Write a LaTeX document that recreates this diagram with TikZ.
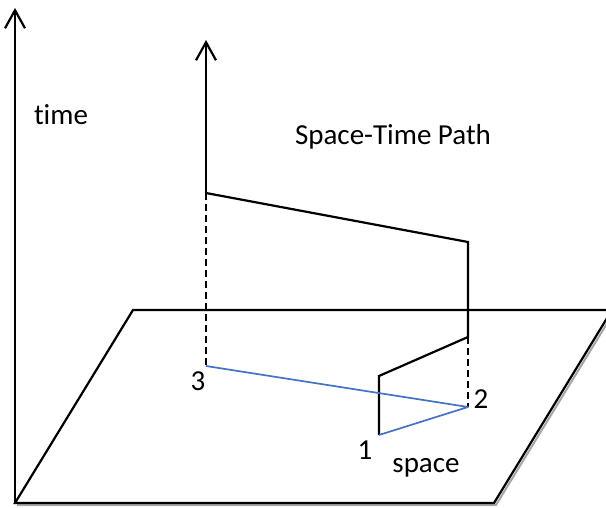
\documentclass[tikz,border=0pt]{standalone}
\usepackage{fontspec}
\setmainfont{Carlito}[Ligatures=NoCommon]
\usetikzlibrary{arrows.meta}
\begin{document}
\begin{tikzpicture}[x=1pt,y=-1pt,
  ln/.style={black,line width=2.2pt},
  gline/.style={draw=black,line width=2.2pt,line join=miter},
  shadowline/.style={draw=black!35,line width=2pt},
  dsh/.style={black,line width=1.8pt,dash pattern=on 7pt off 4pt},
  blueln/.style={draw={rgb,255:red,68;green,114;blue,196},line width=1.7pt},
  arr/.style={-{Straight Barb[length=18pt,width=20pt,line width=2.2pt]}},
  lbl/.style={font=\fontsize{29}{34}\selectfont,inner sep=0pt}]
\useasboundingbox (0,0) rectangle (606,508);
% coordinates
\coordinate (A) at (15,503);
\coordinate (B) at (133,310);
\coordinate (C) at (612,310);
\coordinate (D) at (494,503);
\coordinate (tt) at (15,8);
\coordinate (p0) at (206,40);
\coordinate (p1) at (206,193);
\coordinate (p2) at (468,242);
\coordinate (p3) at (468,337);
\coordinate (p4) at (379,376);
\coordinate (p5) at (379,435);
\coordinate (g3) at (206,366);
\coordinate (g2) at (468,407);
% plane with shadow
\begin{scope}
\clip (0,0) rectangle (606,508);
\draw[shadowline] ([shift={(2,2)}]A) -- ([shift={(2,2)}]D) -- ([shift={(2,2)}]C);
\draw[gline] (A) -- (B) -- (C) -- (D) -- cycle;
\end{scope}
% time axis
\draw[ln,arr] (A) -- (tt);
% space-time path
\draw[ln,arr] (p1) -- (p0);
\draw[gline] (p1) -- (p2) -- (p3) -- (p4) -- (p5);
% projections
\draw[dsh] (p1) -- (g3);
\draw[dsh] (p3) -- (g2);
\draw[blueln,line join=round] (g3) -- (g2) -- (p5);
% labels
\node[lbl] (ltime) at (61,115) {time};
\node[lbl] (ltitle) at (393,137) {Space-Time Path};
\node[lbl] (l3) at (198,381) {3};
\node[lbl] (l2) at (481,399) {2};
\node[lbl] (l1) at (365,450) {1};
\node[lbl] (lspace) at (426,468) {space};
\end{tikzpicture}
\end{document}
